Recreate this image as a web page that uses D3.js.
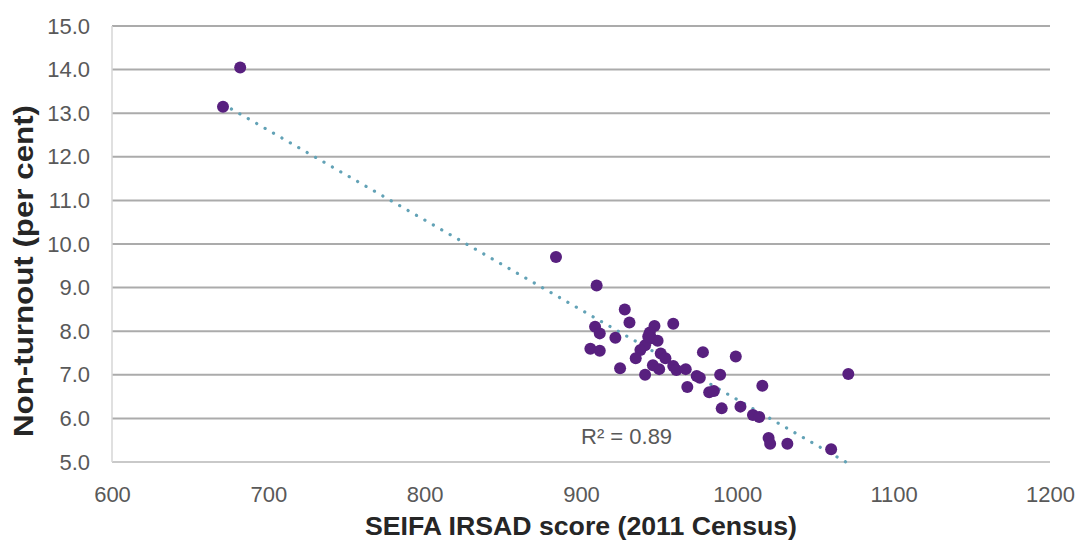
<!DOCTYPE html>
<html>
<head>
<meta charset="utf-8">
<script src="https://cdn.jsdelivr.net/npm/d3@7"></script>
<style>
  html, body { margin: 0; padding: 0; background: #fff; }
  svg { display: block; }
</style>
</head>
<body>
<svg id="chart" width="1078" height="540"></svg>
<script>
// ---- data ----
const seifaScore = [671, 682, 884, 910, 928, 931, 909, 912, 922, 906, 912, 925,
  947, 944, 945, 949, 959, 941, 938, 935, 946, 950, 941, 951, 954, 959, 961,
  967, 974, 978, 968, 982, 985, 999, 976, 989, 1071, 1016, 990, 1002, 1010,
  1014, 1020, 1021, 1032, 1060, 943];
const nonTurnout = [13.15, 14.05, 9.7, 9.05, 8.5, 8.2, 8.1, 7.95, 7.85, 7.6, 7.55, 7.15,
  8.12, 7.97, 7.84, 7.78, 8.17, 7.68, 7.57, 7.38, 7.22, 7.13, 7.0, 7.49, 7.38, 7.2, 7.11,
  7.13, 6.97, 7.52, 6.72, 6.6, 6.63, 7.42, 6.93, 7.0, 7.02, 6.75, 6.23, 6.27, 6.08,
  6.03, 5.55, 5.42, 5.42, 5.29, 7.88];
const xTicks = [600, 700, 800, 900, 1000, 1100, 1200];
const yTicks = [5, 6, 7, 8, 9, 10, 11, 12, 13, 14, 15];
const trendCoef = [27.03, -0.0206];   // intercept, slope of linear trendline
const rSquaredLabel = "R\u00B2 = 0.89";
const xTitle = "SEIFA IRSAD score (2011 Census)";
const yTitle = "Non-turnout (per cent)";

(function () {
// ---- layout ----
const svg = d3.select("#chart");
const pl = 112, pr = 1050, pt = 26, pb = 462;
const x = d3.scaleLinear().domain([600, 1200]).range([pl, pr]);
const y = d3.scaleLinear().domain([5, 15]).range([pb, pt]);
const font = "'Liberation Sans', Arial, sans-serif";

// gridlines
svg.append("g").selectAll("line").data(yTicks).join("line")
  .attr("x1", pl).attr("x2", pr)
  .attr("y1", d => y(d)).attr("y2", d => y(d))
  .attr("stroke", d => d === 5 ? "#c9c9c9" : "#ababab")
  .attr("stroke-width", 2);

// left axis line
svg.append("line")
  .attr("x1", pl).attr("x2", pl).attr("y1", pt).attr("y2", pb)
  .attr("stroke", "#d6d6d6").attr("stroke-width", 1.5);

// y axis labels
const yAxis = d3.axisLeft(y).tickValues(yTicks).tickFormat(d3.format(".1f")).tickSize(0).tickPadding(22);
const gy = svg.append("g").attr("transform", `translate(${pl},0)`).call(yAxis);
gy.select(".domain").remove();
gy.selectAll("text").attr("font-family", font).attr("font-size", 22).attr("fill", "#595959");

// x axis labels
const xAxis = d3.axisBottom(x).tickValues(xTicks).tickFormat(d3.format("d")).tickSize(0).tickPadding(24);
const gx = svg.append("g").attr("transform", `translate(0,${pb})`).call(xAxis);
gx.select(".domain").remove();
gx.selectAll("text").attr("font-family", font).attr("font-size", 22).attr("fill", "#595959");

// trendline (dotted)
const xMin = d3.min(seifaScore), xMax = d3.max(seifaScore);
const trendPts = [xMin, xMax].map(v => [v, trendCoef[0] + trendCoef[1] * v]);
svg.append("path")
  .attr("d", d3.line().x(d => x(d[0])).y(d => y(d[1]))(trendPts))
  .attr("fill", "none")
  .attr("stroke", "#62a2b6")
  .attr("stroke-width", 3.2)
  .attr("stroke-linecap", "round")
  .attr("stroke-dasharray", "0.1,9.6");

// points
const pts = seifaScore.map((v, i) => ({ x: v, y: nonTurnout[i] }));
svg.append("g").selectAll("circle").data(pts).join("circle")
  .attr("cx", d => x(d.x)).attr("cy", d => y(d.y))
  .attr("r", 6)
  .attr("fill", "#58207f");

// R² label
svg.append("text")
  .attr("x", 581).attr("y", 444)
  .attr("font-family", font).attr("font-size", 22)
  .attr("fill", "#595959")
  .text(rSquaredLabel);

// axis titles
svg.append("text")
  .attr("x", (pl + pr) / 2).attr("y", 535)
  .attr("text-anchor", "middle")
  .attr("font-family", font).attr("font-size", 25).attr("font-weight", "bold")
  .attr("fill", "#262626")
  .attr("textLength", 432).attr("lengthAdjust", "spacingAndGlyphs")
  .text(xTitle);

svg.append("text")
  .attr("transform", "translate(33,271) rotate(-90)")
  .attr("text-anchor", "middle")
  .attr("font-family", font).attr("font-size", 27).attr("font-weight", "bold")
  .attr("fill", "#262626")
  .attr("textLength", 332).attr("lengthAdjust", "spacingAndGlyphs")
  .text(yTitle);
})();
</script>
</body>
</html>
